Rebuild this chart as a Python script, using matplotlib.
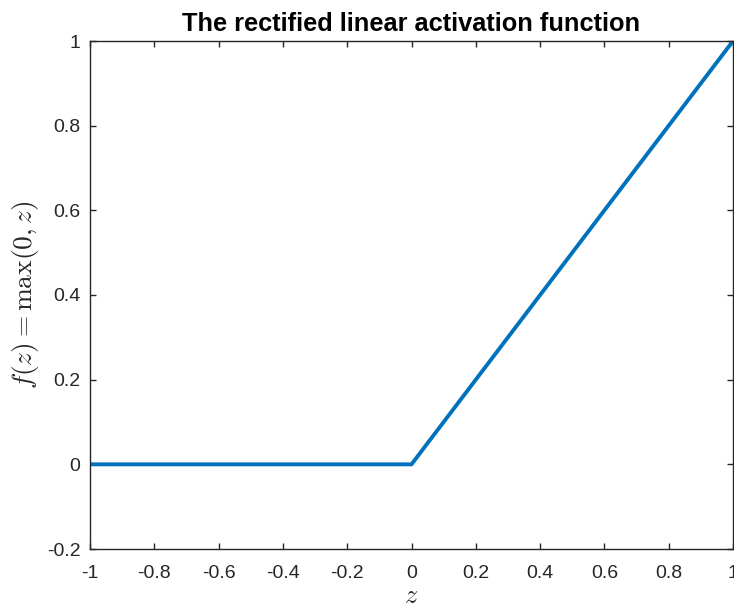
import matplotlib.pyplot as plt
import numpy as np

plt.rcParams['font.family'] = ['Liberation Sans', 'DejaVu Sans']
plt.rcParams['mathtext.fontset'] = 'cm'

# ReLU breakpoints
z = [-1, 0, 1]
f = [0, 0, 1]

xticks = [-1, -0.8, -0.6, -0.4, -0.2, 0, 0.2, 0.4, 0.6, 0.8, 1]
yticks = [-0.2, 0, 0.2, 0.4, 0.6, 0.8, 1]

fig = plt.figure(figsize=(7.34, 6.07), dpi=100)
ax = fig.add_axes([90 / 734, 1 - 549 / 607, 643 / 734, 508 / 607])

ax.plot(z, f, color='#0072BD', linewidth=2.8, solid_joinstyle='miter')

ax.set_xlim(-1, 1)
ax.set_ylim(-0.2, 1)
ax.set_xticks(xticks)
ax.set_yticks(yticks)
ax.set_xticklabels([('%g' % t) for t in xticks])
ax.set_yticklabels([('%g' % t) for t in yticks])

ax.tick_params(direction='in', length=4, width=1, color='#262626',
               labelcolor='#262626', labelsize=14, top=True, right=True)
ax.tick_params(axis='x', pad=11.5)
ax.tick_params(axis='y', pad=7)
for s in ax.spines.values():
    s.set_color('#262626')
    s.set_linewidth(1.0)

ax.set_title('The rectified linear activation function', fontsize=18.3,
             fontweight='bold', pad=7.5)
ax.set_xlabel('$z$', fontsize=19, color='#262626', labelpad=1.5)
ax.set_ylabel(r'$f(z) = \max(0,z)$', fontsize=19.7, color='#262626', labelpad=4)

fig.savefig('out.png', dpi=100)
